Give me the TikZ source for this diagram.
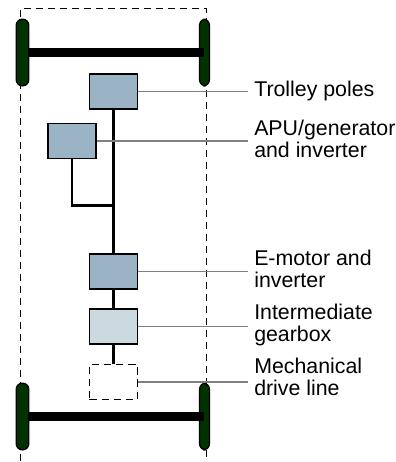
\documentclass[tikz,border=0pt]{standalone}
\usepackage{fontspec}
\setmainfont{Liberation Sans}
\usetikzlibrary{positioning, calc}
\definecolor{boxblue}{HTML}{9AB3C5}
\definecolor{boxlight}{HTML}{CBD9E0}
\definecolor{wheelgreen}{HTML}{003300}
\definecolor{leadgray}{HTML}{808080}

\begin{document}
\begin{tikzpicture}[
  x=0.75pt, y=-0.75pt,
  font=\fontsize{16pt}{16.6pt}\selectfont,
  outline/.style={line width=1.2pt, dash pattern=on 5pt off 4pt},
  box/.style={draw=black, fill=boxblue, line width=1.4pt, minimum height=26.3pt, minimum width=36pt, inner sep=0pt},
  lightbox/.style={box, fill=boxlight},
  dashbox/.style={box, fill=none, line width=1.2pt, dash pattern=on 5.5pt off 3.6pt},
  wheel/.style={draw=black, fill=wheelgreen, line width=1pt, rounded corners=4.6pt, minimum height=50pt, minimum width=#1, inner sep=0pt},
  axle/.style={line width=6.8pt},
  shaft/.style={line width=2.2pt},
  lead/.style={leadgray, line width=1.3pt},
  label/.style={align=left, anchor=west, inner sep=0pt}
]
\useasboundingbox (0,0) rectangle (396,462);
% vehicle outline
\draw[outline] (20.5,461) -- (20.5,8.5) -- (206.5,8.5) -- (206.5,461);
% axles
\node[wheel=9.4pt] (wfl) at (22.5,52.5) {};
\node[wheel=7.4pt] (wfr) at (204.5,52.5) {};
\node[wheel=9.4pt] (wrl) at (22.5,416.5) {};
\node[wheel=7.4pt] (wrr) at (204.5,416.5) {};
\draw[axle] (wfl.east) -- (wfr.center);
\draw[axle] (wrl.east) -- (wrr.center);
% components
\node[box] (poles) at (113.5,91.5) {};
\node[box] (apu) at (72,141) {};
\node[box] (motor) at (113.5,271.5) {};
\node[lightbox, below=13.5pt of motor] (gear) {};
\node[dashbox, below=14pt of gear] (drive) {};
\coordinate (tee) at (113.5,205.5);
\draw[shaft] (poles) -- (motor);
\draw[shaft] (apu.south) |- (tee);
\draw[shaft] (motor) -- (gear);
\draw[shaft] (gear) -- (drive.north);
% labels
\node[label] (lpoles) at (254,91) {Trolley poles};
\node[label] (lapu) at (254,139) {APU/generator\\and inverter};
\node[label] (lmotor) at (254,269) {E-motor and\\inverter};
\node[label] (lgear) at (254,325) {Intermediate\\gearbox};
\node[label] (ldrive) at (254,377) {Mechanical\\drive line};
\draw[lead] (poles.east) -- ($(poles.east -| lpoles.west)+(-6,0)$);
\draw[lead] (apu.east) -- ($(apu.east -| lapu.west)+(-6,0)$);
\draw[lead] (motor.east) -- ($(motor.east -| lmotor.west)+(-6,0)$);
\draw[lead] (gear.east) -- ($(gear.east -| lgear.west)+(-6,0)$);
\draw[lead] (drive.east) -- ($(drive.east -| ldrive.west)+(-6,0)$);
\end{tikzpicture}
\end{document}
